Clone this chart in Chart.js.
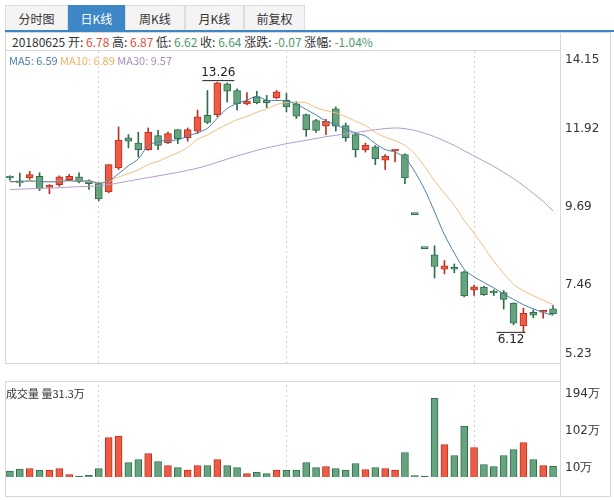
<!DOCTYPE html>
<html>
<head>
<meta charset="utf-8">
<script src="https://cdn.jsdelivr.net/npm/chart.js@4/dist/chart.umd.min.js"></script>
<style>
  body { margin: 0; background: #fff; font-family: "Noto Sans CJK SC", "DejaVu Sans", sans-serif; }
  #wrap { position: relative; width: 614px; height: 500px; }
  .tab { position: absolute; top: 5px; height: 25px; line-height: 25px; text-align: center; font-size: 12px; color: #333; background: #f4f4f4; border: 1px solid #ddd; border-bottom: none; box-sizing: border-box; }
  .tab.on { background: #3d87c6; color: #fff; border-color: #3d87c6; }
  #bar { position: absolute; left: 5px; top: 30px; width: 609px; height: 2px; background: #3d87c6; }
  .box { position: absolute; border: 1px solid #d8d8d8; box-sizing: border-box; }
  #info { position: absolute; left: 12px; top: 33px; font-size: 12px; line-height: 17px; color: #333; white-space: nowrap; }
  #ma { position: absolute; left: 9px; top: 52px; font-size: 11px; white-space: nowrap; }
  #vl { position: absolute; left: 6px; top: 385px; font-size: 11px; color: #333; }
  canvas { position: absolute; }
</style>
</head>
<body>
<div id="wrap">
  <div class="tab" style="left:5px;width:63px">分时图</div>
  <div class="tab on" style="left:68px;width:57px">日K线</div>
  <div class="tab" style="left:125px;width:60px">周K线</div>
  <div class="tab" style="left:185px;width:59px">月K线</div>
  <div class="tab" style="left:244px;width:61px">前复权</div>
  <div id="bar"></div>
  <div class="box" style="left:5px;top:32px;width:556px;height:19px"></div>
  <div class="box" style="left:5px;top:50px;width:556px;height:314px"></div>
  <div class="box" style="left:5px;top:381px;width:556px;height:116px"></div>
  <div class="box" style="left:560px;top:32px;width:51px;height:465px;border-left:1px solid #d8d8d8"></div>
  <div id="info">20180625 开: <span style="color:#e0503c">6.78</span> 高: <span style="color:#e0503c">6.87</span> 低: <span style="color:#4f9a6c">6.62</span> 收: <span style="color:#4f9a6c">6.64</span> 涨跌: <span style="color:#4f9a6c">-0.07</span> 涨幅: <span style="color:#4f9a6c">-1.04%</span></div>
  <canvas id="k" width="605" height="312" style="left:5px;top:51px;width:605px;height:312px"></canvas>
  <canvas id="v" width="605" height="92" style="left:5px;top:385px;width:605px;height:92px"></canvas>
  <div id="ma"><span style="color:#4b7fa8">MA5: 6.59</span> <span style="color:#f0b060">MA10: 6.89</span> <span style="color:#a98cc0">MA30: 9.57</span></div>
  <div id="vl">成交量 量31.3万</div>
</div>
<script>
const opens  = [10.52,10.38,10.52,10.57,10.25,10.33,10.47,10.55,10.43,10.36,10.12,10.81,11.67,11.52,11.33,11.73,11.52,11.90,11.67,11.86,12.31,12.33,13.21,13.02,12.64,12.84,12.74,12.81,12.74,12.64,12.33,12.16,12.00,12.50,12.02,11.76,11.33,11.41,11.03,11.29,11.19,9.47,8.50,8.32,7.91,7.95,7.84,7.32,7.40,7.27,7.24,6.94,6.29,6.68,6.68,6.78];
const highs  = [10.58,10.66,10.71,10.67,10.33,10.58,10.62,10.67,10.47,10.40,10.90,11.98,11.76,11.83,11.95,11.88,11.83,11.90,11.95,12.46,13.02,13.26,13.24,13.07,12.96,13.00,12.88,13.02,12.94,12.70,12.35,12.20,12.20,12.55,12.09,11.80,11.52,11.45,11.19,11.31,11.21,9.47,8.50,8.58,8.16,8.06,7.86,7.46,7.43,7.32,7.30,6.95,6.80,6.75,6.72,6.87];
const lows   = [10.46,10.28,10.48,10.16,10.07,10.28,10.45,10.38,10.19,9.87,10.10,10.76,11.38,11.12,11.31,11.33,11.50,11.50,11.57,11.79,12.07,12.27,12.69,12.46,12.61,12.64,12.53,12.78,12.41,12.22,11.71,11.82,11.76,11.86,11.57,11.12,11.26,10.90,10.76,10.98,10.36,9.47,8.50,7.66,7.78,7.81,7.12,7.16,7.16,7.16,6.77,6.32,6.12,6.52,6.51,6.62];
const closes = [10.52,10.38,10.62,10.21,10.31,10.55,10.57,10.43,10.36,9.92,10.90,11.60,11.57,11.33,11.83,11.45,11.79,11.64,11.90,12.27,12.11,13.24,13.00,12.64,12.72,12.67,12.67,12.98,12.55,12.29,11.90,11.88,12.14,12.00,11.67,11.33,11.45,11.07,11.14,11.30,10.52,9.47,8.50,7.99,8.01,7.91,7.15,7.41,7.18,7.23,7.05,6.37,6.65,6.60,6.70,6.64];
const volumes = [22,26,27,24,24,27,15,12,14,27,89,92,39,45,57,41,33,29,24,33,33,45,33,29,17,20,17,24,24,24,39,29,31,27,24,37,25,29,27,24,59,13,12,168,75,53,112,69,35,31,53,65,79,45,33,31.3];
const ma5Start  = [10.42,10.42,10.44,10.42];
const ma10Start = [10.40,10.41,10.42,10.42,10.42,10.43,10.43,10.43,10.42];
const ma30 = [10.19,10.20,10.21,10.22,10.23,10.24,10.26,10.27,10.28,10.30,10.33,10.38,10.43,10.48,10.53,10.58,10.63,10.68,10.74,10.80,10.88,10.97,11.06,11.15,11.23,11.31,11.38,11.44,11.50,11.55,11.60,11.65,11.70,11.74,11.78,11.82,11.86,11.90,11.93,11.95,11.93,11.88,11.80,11.70,11.58,11.45,11.30,11.15,11.00,10.85,10.68,10.50,10.30,10.08,9.85,9.57];
const priceTicks = [5.23, 7.46, 9.69, 11.92, 14.15];
const volTicks = [10, 102, 194];
const gridIdx = [9, 28, 47];

const labels = closes.map((_, i) => i);
function ma(n, start) {
  return closes.map((c, i) => i < n - 1 ? start[i] : closes.slice(i - n + 1, i + 1).reduce((a, b) => a + b, 0) / n);
}
const up = closes.map((c, i) => c > opens[i]);
const fillC = up.map(u => u ? '#ee5b45' : '#66a47f');
const lineC = up.map(u => u ? '#b8321f' : '#2f6e4a');

function xAxis() {
  return {
    offset: true,
    grid: { display: true, offset: false, drawTicks: false, color: ctx => gridIdx.includes(ctx.index) ? '#d0d0d0' : 'transparent' },
    border: { display: false, dash: [2, 3] },
    ticks: { display: false }
  };
}
function sideLabels(ticks, fmt) {
  return {
    id: 'side',
    afterDraw(chart) {
      const { ctx, chartArea: a, scales: { y } } = chart;
      ctx.save();
      ctx.font = '12px "DejaVu Sans", sans-serif';
      ctx.fillStyle = '#333';
      ctx.textBaseline = 'middle';
      ticks.forEach(t => {
        let py = y.getPixelForValue(t);
        py = Math.max(a.top + 9, Math.min(a.bottom - 9, py));
        ctx.fillText(fmt(t), a.right + 7, py);
      });
      ctx.restore();
    }
  };
}
const extremes = {
  id: 'extremes',
  afterDatasetsDraw(chart) {
    const { ctx, scales: { x, y } } = chart;
    const hi = highs.indexOf(Math.max(...highs));
    const lo = lows.indexOf(Math.min(...lows));
    ctx.save();
    ctx.font = '12px "DejaVu Sans", sans-serif';
    ctx.fillStyle = '#222'; ctx.strokeStyle = '#222'; ctx.lineWidth = 1;
    let px = x.getPixelForValue(hi), py = y.getPixelForValue(highs[hi]);
    ctx.textAlign = 'center'; ctx.textBaseline = 'bottom';
    ctx.fillText(highs[hi].toFixed(2), px + 1, py - 3);
    ctx.beginPath(); ctx.moveTo(px - 15, py - 1.5); ctx.lineTo(px + 17, py - 1.5); ctx.stroke();
    px = x.getPixelForValue(lo); py = y.getPixelForValue(lows[lo]);
    ctx.textAlign = 'right'; ctx.textBaseline = 'top';
    ctx.fillText(lows[lo].toFixed(2), px + 1, py + 2);
    ctx.beginPath(); ctx.moveTo(px - 27, py + 0.5); ctx.lineTo(px + 2, py + 0.5); ctx.stroke();
    ctx.restore();
  }
};

new Chart('k', {
  type: 'bar',
  data: {
    labels: labels,
    datasets: [
      { type: 'line', data: ma(5, ma5Start), borderColor: '#4b7fa8', borderWidth: 1, pointRadius: 0, tension: 0.3, order: 0 },
      { type: 'line', data: ma(10, ma10Start), borderColor: '#f2bd80', borderWidth: 1, pointRadius: 0, tension: 0.3, order: 0 },
      { type: 'line', data: ma30, borderColor: '#b59ac8', borderWidth: 1, pointRadius: 0, tension: 0.3, order: 0 },
      { data: lows.map((l, i) => [l, highs[i]]), backgroundColor: lineC, barThickness: 1, grouped: false, order: 2 },
      { data: opens.map((o, i) => [o, closes[i]]), backgroundColor: fillC, borderColor: lineC, borderWidth: 1, borderSkipped: false, barThickness: 7, minBarLength: 2, grouped: false, order: 1 }
    ]
  },
  options: {
    responsive: false, animation: false,
    layout: { padding: { right: 52, top: 0, bottom: 0, left: 0 } },
    plugins: { legend: { display: false }, tooltip: { enabled: false } },
    scales: {
      x: xAxis(),
      y: { min: 5.23, max: 14.15, display: false }
    }
  },
  plugins: [sideLabels(priceTicks, t => t.toFixed(2)), extremes]
});

new Chart('v', {
  type: 'bar',
  data: {
    labels: labels,
    datasets: [{ data: volumes, backgroundColor: fillC, borderColor: lineC, borderWidth: 1, borderSkipped: false, barThickness: 7 }]
  },
  options: {
    responsive: false, animation: false,
    layout: { padding: { right: 52 } },
    plugins: { legend: { display: false }, tooltip: { enabled: false } },
    scales: {
      x: xAxis(),
      y: { min: 10, max: 194, display: false }
    }
  },
  plugins: [sideLabels(volTicks, t => t + '万')]
});
</script>
</body>
</html>
